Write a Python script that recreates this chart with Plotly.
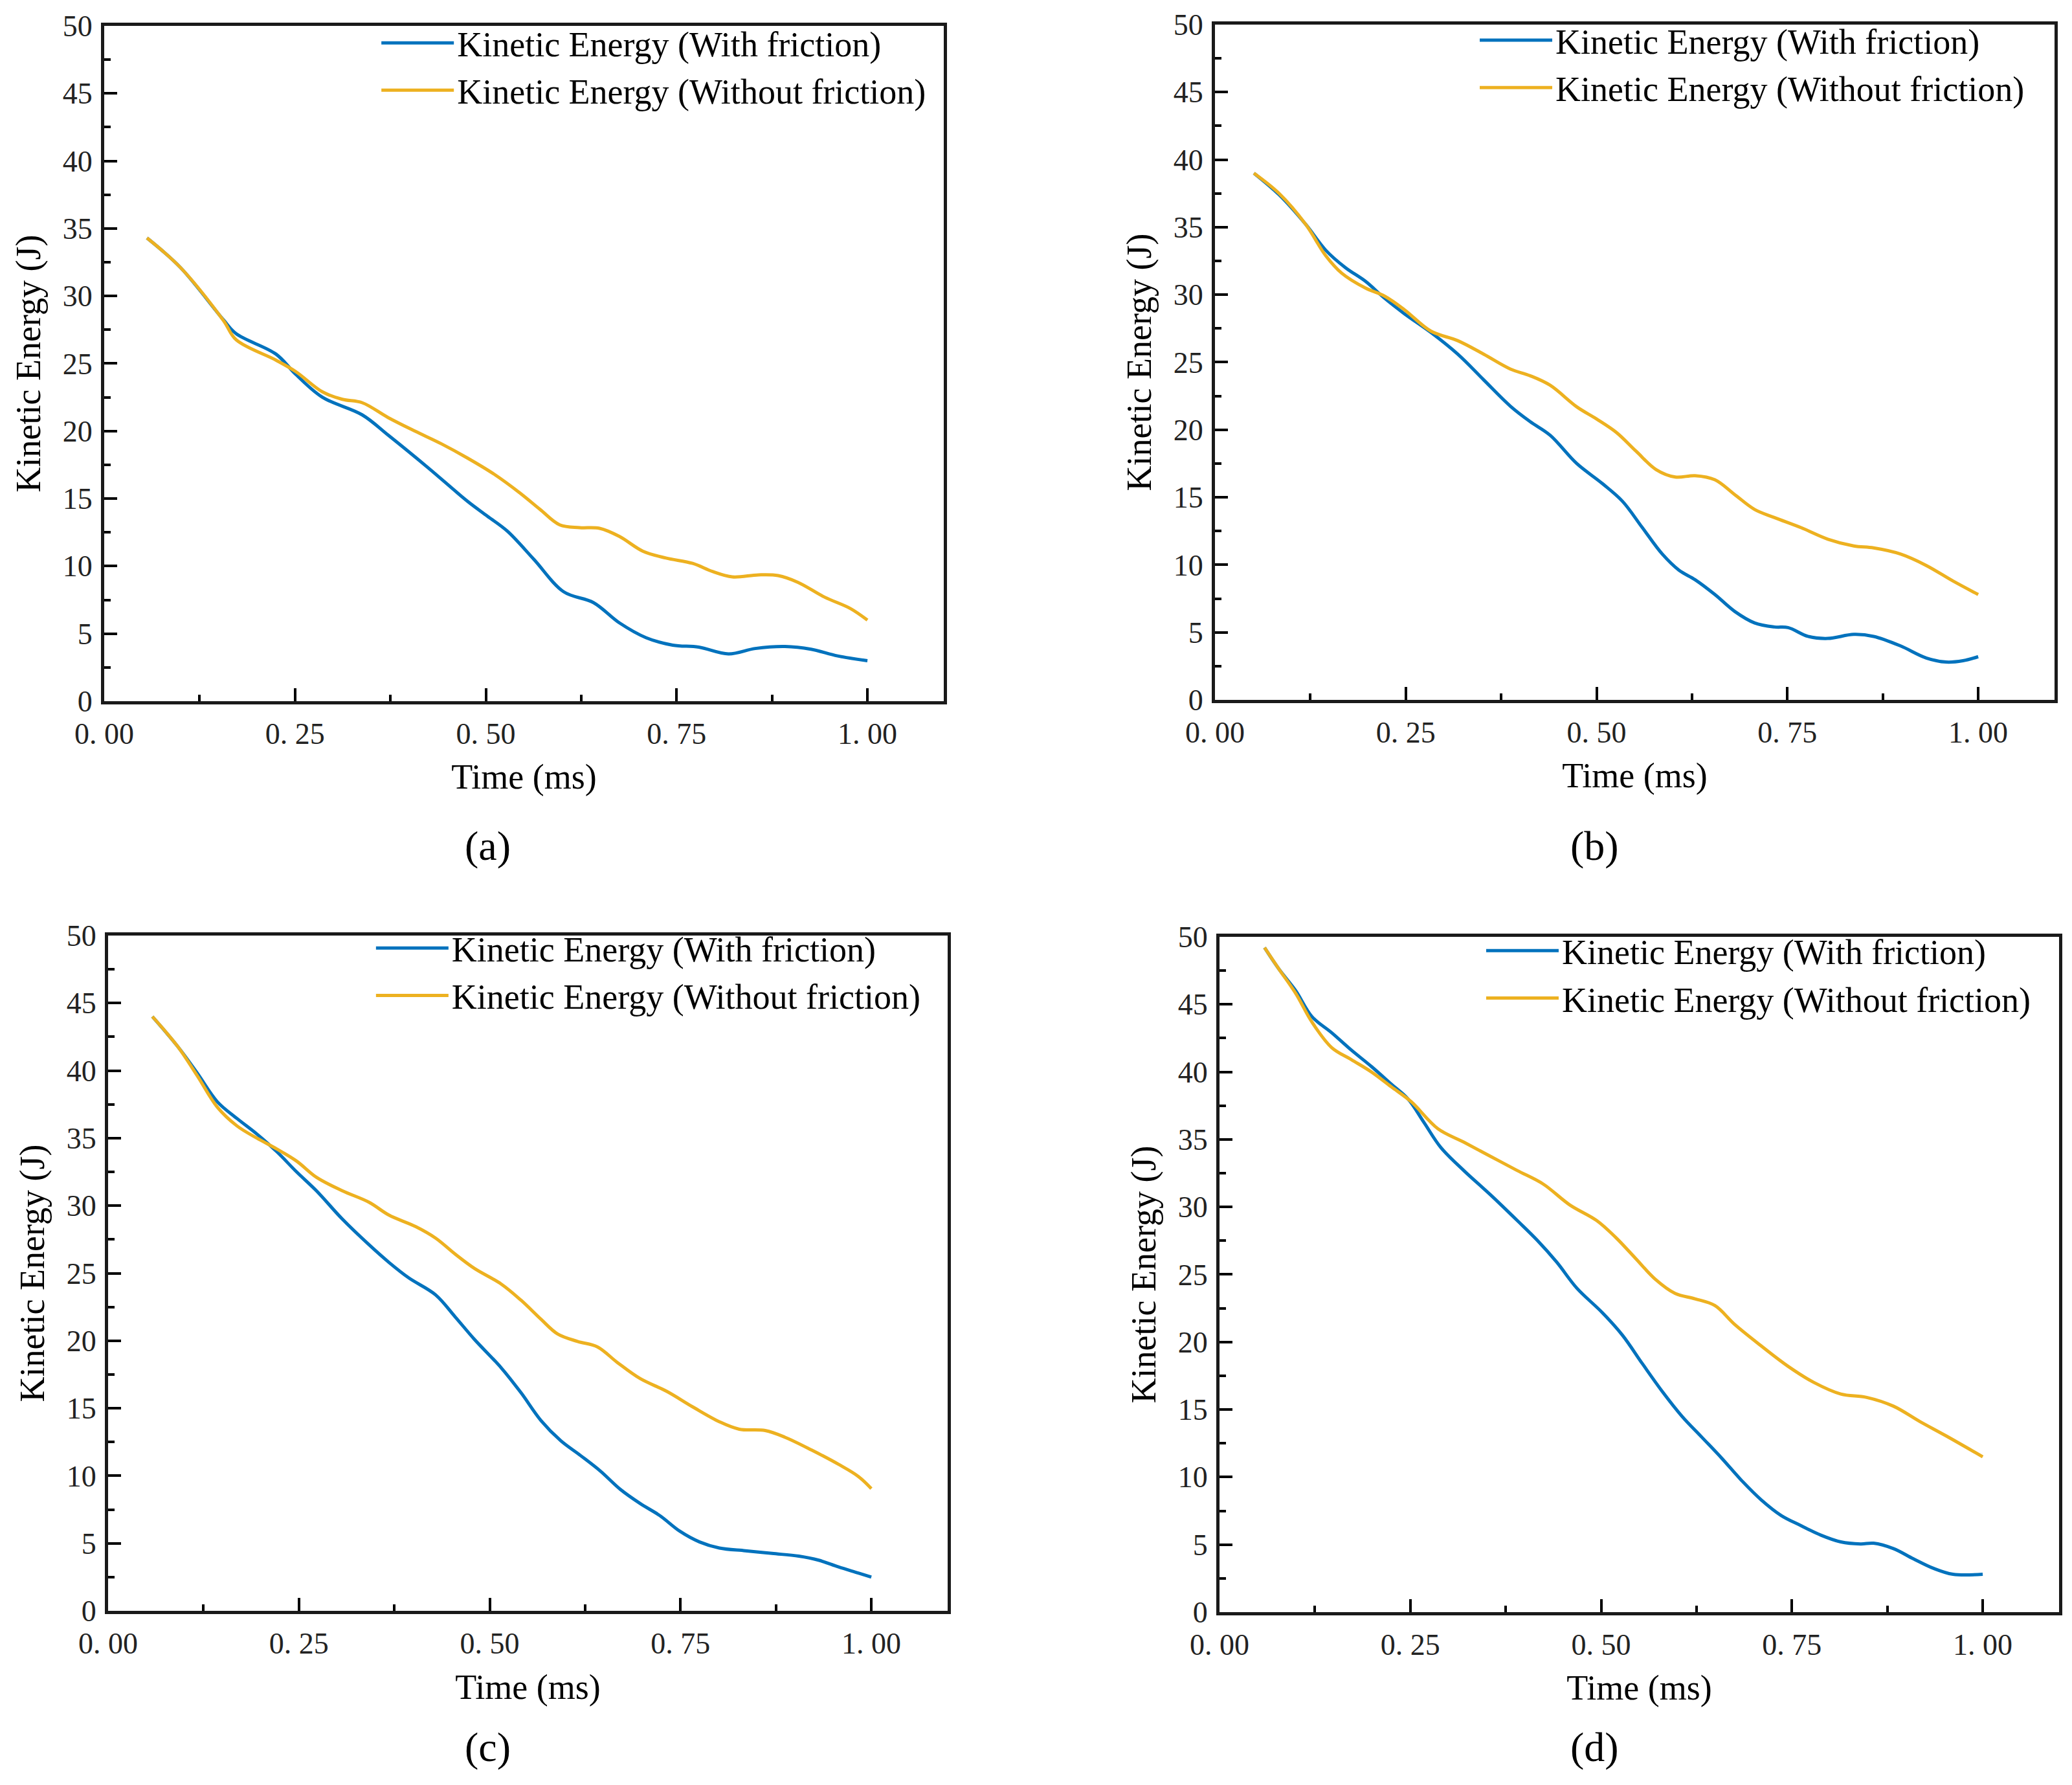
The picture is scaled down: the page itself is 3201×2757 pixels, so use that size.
import plotly.graph_objects as go

# ---------------- data ----------------
# panel (a)
t_a_with = [0.056, 0.100, 0.156, 0.173, 0.225, 0.251, 0.286, 0.338, 0.372, 0.424, 0.476, 0.502, 0.528,
            0.563, 0.602, 0.641, 0.675, 0.710, 0.745, 0.779, 0.818, 0.853, 0.892, 0.926, 0.961, 1.000]
ke_a_with = [34.3, 32.1, 28.25, 27.2, 25.7, 24.2, 22.5, 21.2, 19.7, 17.3, 14.8, 13.7, 12.6,
             10.5, 8.1, 7.3, 5.8, 4.7, 4.15, 4.0, 3.5, 3.9, 4.05, 3.85, 3.35, 3.0]
t_a_without = [0.056, 0.100, 0.156, 0.173, 0.225, 0.251, 0.286, 0.312, 0.338, 0.372, 0.407, 0.442, 0.476,
               0.511, 0.545, 0.571, 0.597, 0.623, 0.649, 0.675, 0.706, 0.736, 0.771, 0.797, 0.823, 0.857,
               0.883, 0.909, 0.944, 0.978, 1.000]
ke_a_without = [34.3, 32.1, 28.2, 26.75, 25.25, 24.4, 22.9, 22.35, 22.1, 21.0, 20.0, 19.05, 18.0,
                16.8, 15.4, 14.2, 13.05, 12.85, 12.8, 12.2, 11.1, 10.6, 10.2, 9.6, 9.2, 9.35,
                9.3, 8.8, 7.7, 6.85, 6.0]

# panel (b)
t_b_with = [0.051, 0.084, 0.119, 0.145, 0.171, 0.197, 0.222, 0.248, 0.283, 0.318, 0.352, 0.387, 0.413,
            0.439, 0.474, 0.508, 0.534, 0.560, 0.586, 0.608, 0.629, 0.655, 0.681, 0.707, 0.733, 0.751,
            0.777, 0.803, 0.837, 0.863, 0.898, 0.932, 0.958, 0.980, 1.000]
ke_b_with = [39.0, 37.4, 35.2, 33.3, 32.0, 31.0, 29.75, 28.6, 27.2, 25.6, 23.7, 21.75, 20.6,
             19.6, 17.5, 16.0, 14.7, 12.75, 10.8, 9.6, 8.9, 7.8, 6.55, 5.7, 5.4, 5.35,
             4.7, 4.55, 4.85, 4.7, 4.0, 3.1, 2.8, 2.9, 3.2]
t_b_without = [0.051, 0.084, 0.119, 0.145, 0.166, 0.197, 0.222, 0.248, 0.283, 0.318, 0.352, 0.387, 0.413,
               0.439, 0.474, 0.500, 0.526, 0.552, 0.578, 0.603, 0.629, 0.655, 0.681, 0.707, 0.733, 0.768,
               0.803, 0.837, 0.863, 0.898, 0.932, 0.967, 1.000]
ke_b_without = [39.0, 37.5, 35.2, 32.9, 31.6, 30.5, 29.9, 28.9, 27.3, 26.6, 25.6, 24.5, 24.0,
                23.3, 21.7, 20.8, 19.8, 18.4, 17.05, 16.5, 16.6, 16.3, 15.2, 14.1, 13.5, 12.75,
                11.9, 11.4, 11.25, 10.8, 9.95, 8.8, 7.8]

# panel (c)
t_c_with = [0.058, 0.091, 0.117, 0.143, 0.169, 0.195, 0.221, 0.247, 0.273, 0.307, 0.342, 0.368, 0.394,
            0.429, 0.455, 0.480, 0.515, 0.541, 0.567, 0.593, 0.619, 0.645, 0.671, 0.697, 0.723, 0.749,
            0.775, 0.801, 0.835, 0.870, 0.905, 0.931, 0.957, 0.983, 1.000]
ke_c_with = [44.0, 41.8, 39.8, 37.7, 36.45, 35.3, 34.0, 32.5, 31.1, 29.0, 27.1, 25.8, 24.65,
             23.4, 21.75, 20.1, 18.0, 16.15, 14.1, 12.6, 11.5, 10.35, 9.0, 7.95, 7.05, 5.9,
             5.1, 4.65, 4.45, 4.25, 4.05, 3.75, 3.25, 2.8, 2.5]
t_c_without = [0.058, 0.091, 0.117, 0.143, 0.169, 0.195, 0.221, 0.247, 0.273, 0.307, 0.342, 0.368, 0.403,
               0.429, 0.455, 0.480, 0.515, 0.541, 0.567, 0.589, 0.615, 0.641, 0.667, 0.697, 0.732, 0.766,
               0.801, 0.827, 0.861, 0.887, 0.922, 0.957, 0.983, 1.000]
ke_c_without = [44.0, 41.8, 39.6, 37.3, 35.9, 35.0, 34.2, 33.3, 32.1, 31.1, 30.25, 29.3, 28.45,
                27.6, 26.4, 25.35, 24.2, 23.0, 21.6, 20.5, 19.95, 19.55, 18.4, 17.2, 16.25, 15.1,
                14.0, 13.45, 13.35, 12.85, 11.9, 10.85, 9.95, 9.05]

# panel (d)
t_d_with = [0.059, 0.078, 0.100, 0.121, 0.147, 0.173, 0.199, 0.225, 0.247, 0.268, 0.290, 0.320, 0.355,
            0.390, 0.416, 0.442, 0.468, 0.502, 0.528, 0.554, 0.580, 0.606, 0.632, 0.658, 0.684, 0.710,
            0.736, 0.762, 0.788, 0.814, 0.840, 0.857, 0.883, 0.909, 0.935, 0.961, 1.000]
ke_d_with = [49.2, 47.6, 46.0, 44.1, 42.9, 41.6, 40.4, 39.1, 38.0, 36.25, 34.4, 32.7, 30.9,
             29.0, 27.55, 25.9, 24.0, 22.15, 20.5, 18.4, 16.35, 14.5, 12.95, 11.4, 9.75, 8.3,
             7.15, 6.4, 5.7, 5.2, 5.05, 5.1, 4.7, 3.95, 3.25, 2.8, 2.8]
t_d_without = [0.059, 0.078, 0.100, 0.121, 0.147, 0.173, 0.199, 0.225, 0.251, 0.286, 0.320, 0.355, 0.390,
               0.424, 0.459, 0.494, 0.519, 0.545, 0.571, 0.597, 0.623, 0.649, 0.675, 0.710, 0.745, 0.779,
               0.814, 0.848, 0.883, 0.918, 0.952, 1.000]
ke_d_without = [49.2, 47.6, 45.8, 43.7, 41.8, 40.9, 40.0, 38.9, 37.8, 35.8, 34.8, 33.75, 32.7,
                31.7, 30.15, 29.0, 27.75, 26.2, 24.65, 23.6, 23.2, 22.7, 21.3, 19.7, 18.2, 17.0,
                16.15, 15.9, 15.25, 14.1, 13.05, 11.5]

x_tick_vals = [0, 0.25, 0.5, 0.75, 1.0]
x_tick_text = ["0. 00", "0. 25", "0. 50", "0. 75", "1. 00"]
y_tick_vals = [0, 5, 10, 15, 20, 25, 30, 35, 40, 45, 50]
y_tick_text = ["0", "5", "10", "15", "20", "25", "30", "35", "40", "45", "50"]
panel_labels = ["(a)", "(b)", "(c)", "(d)"]
name_with = "Kinetic Energy (With friction)"
name_without = "Kinetic Energy (Without friction)"

# ---------------- figure ----------------
W, H = 3201, 2757
BLUE = "#0072BD"
GOLD = "#EDB120"
FONT = "Liberation Serif"

panels = [
    (t_a_with, ke_a_with, t_a_without, ke_a_without),
    (t_b_with, ke_b_with, t_b_without, ke_b_without),
    (t_c_with, ke_c_with, t_c_without, ke_c_without),
    (t_d_with, ke_d_with, t_d_without, ke_d_without),
]

# axes domains (paper fractions)
x_domains = [[0.04780, 0.45298], [0.58388, 0.98907], [0.04967, 0.45486], [0.58607, 0.99125]]
y_domains = [[0.61009, 0.98839], [0.61081, 0.98912], [0.10047, 0.47878], [0.09975, 0.47806]]
legend_pos = [(0.1800, 0.9940), (0.7101, 0.9955), (0.1774, 0.4869), (0.7132, 0.4854)]
label_pos = [(0.2330, 0.5290), (0.7670, 0.5290), (0.2330, 0.0240), (0.7670, 0.0240)]

fig = go.Figure()
layout = dict(
    width=W, height=H,
    margin=dict(l=0, r=0, t=0, b=0, autoexpand=False),
    paper_bgcolor="white", plot_bgcolor="white",
    font=dict(family=FONT, size=46, color="black"),
    annotations=[],
    showlegend=True,
)

for i, (tw, kw, to, ko) in enumerate(panels):
    n = i + 1
    xa = "x" if n == 1 else f"x{n}"
    ya = "y" if n == 1 else f"y{n}"
    lg = "legend" if n == 1 else f"legend{n}"
    fig.add_trace(go.Scatter(x=tw, y=kw, mode="lines", name=name_with,
                             line=dict(color=BLUE, width=5, shape="spline", smoothing=1.0),
                             xaxis=xa, yaxis=ya, legend=lg))
    fig.add_trace(go.Scatter(x=to, y=ko, mode="lines", name=name_without,
                             line=dict(color=GOLD, width=5, shape="spline", smoothing=1.0),
                             xaxis=xa, yaxis=ya, legend=lg))
    xkey = "xaxis" if n == 1 else f"xaxis{n}"
    ykey = "yaxis" if n == 1 else f"yaxis{n}"
    layout[xkey] = dict(
        domain=x_domains[i], anchor=ya, range=[0, 1.1], automargin=False,
        tickmode="array", tickvals=x_tick_vals, ticktext=x_tick_text,
        ticks="inside", ticklen=20, tickwidth=4, tickcolor="black",
        minor=dict(ticks="inside", ticklen=10, tickwidth=4, tickcolor="black",
                   tickmode="array", tickvals=[0.125, 0.375, 0.625, 0.875]),
        showline=True, linewidth=5, linecolor="#1a1a1a", mirror=True,
        showgrid=False, zeroline=False,
        tickfont=dict(family=FONT, size=46, color="#222222"),
        ticklabelstandoff=6,
        title=dict(text="Time (ms)", font=dict(family=FONT, size=54, color="black"), standoff=24),
    )
    layout[ykey] = dict(
        domain=y_domains[i], anchor=xa, range=[0, 50], automargin=False,
        tickmode="array", tickvals=y_tick_vals, ticktext=y_tick_text,
        ticks="inside", ticklen=20, tickwidth=4, tickcolor="black",
        minor=dict(ticks="inside", ticklen=10, tickwidth=4, tickcolor="black",
                   tickmode="array", tickvals=[2.5 + 5 * k for k in range(10)]),
        showline=True, linewidth=5, linecolor="#1a1a1a", mirror=True,
        showgrid=False, zeroline=False,
        tickfont=dict(family=FONT, size=46, color="#222222"),
        ticklabelstandoff=4,
        title=dict(text="Kinetic Energy (J)", font=dict(family=FONT, size=54, color="black"), standoff=18),
    )
    layout[lg] = dict(
        x=legend_pos[i][0], y=legend_pos[i][1], xanchor="left", yanchor="top",
        bgcolor="rgba(0,0,0,0)", borderwidth=0,
        font=dict(family=FONT, size=54, color="black"),
        itemwidth=112, tracegroupgap=0,
    )
    layout["annotations"].append(dict(
        text=panel_labels[i], x=label_pos[i][0], y=label_pos[i][1],
        xref="paper", yref="paper", xanchor="center", yanchor="middle",
        showarrow=False, font=dict(family=FONT, size=64, color="black"),
    ))

fig.update_layout(**layout)
fig.write_html("out.html")
